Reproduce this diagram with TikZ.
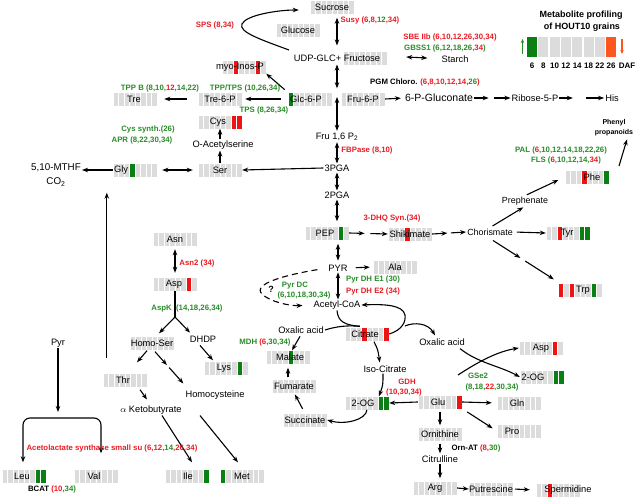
\documentclass[tikz,border=0pt]{standalone}
\usepackage{fontspec}
\setmainfont{Liberation Sans}
\usetikzlibrary{arrows.meta,calc}
\definecolor{cellgray}{RGB}{220,220,220}
\definecolor{cgreen}{RGB}{10,128,20}
\definecolor{cred}{RGB}{238,20,20}
\definecolor{lgreen}{RGB}{40,140,40}
\definecolor{lred}{RGB}{232,28,36}
\definecolor{lorange}{RGB}{255,85,30}
\newcommand\mfont{\fontsize{9.3}{11}\selectfont}
\newcommand\lfont{\bfseries\fontsize{7.8}{9}\selectfont}
\newcommand\R[1]{\textcolor{lred}{#1}}
\newcommand\G[1]{\textcolor{lgreen}{#1}}
\newcommand\K[1]{\textcolor{black}{#1}}
% metabolite bar: [text shift]{name}{x}{y}{text}{highlight list}
\newcommand\met[6][0]{%
  \foreach \i in {0,...,7}{\fill[cellgray] ({#3-22+\i*5.5+0.5},{#4-6.5}) rectangle ++(4.5,13);}
  \foreach \i/\cc in {#6}{\fill[fill=\cc] ({#3-22+\i*5.5+0.5},{#4-6.5}) rectangle ++(4.5,13);}
  \node[met] (#2) at (#3,#4) {\makebox[0pt]{\hspace*{#1pt}\hspace*{#1pt}#5}};
}
\newcommand\twostep[4]{%
  \draw[arr] (#1) -- ($(#1)!#3!(#2)$);
  \draw[arr] ($(#1)!#4!(#2)$) -- (#2);
}
\tikzset{
  met/.style={minimum width=44pt, minimum height=13pt, inner sep=0pt, font=\mfont},
  txt/.style={inner sep=1pt, font=\mfont},
  lab/.style={inner sep=0pt, font=\lfont, text=black},
  tip/.tip={Stealth[length=6pt,width=4.5pt]},
  arr/.style={line width=1.1pt, -tip},
  darr/.style={line width=1.1pt, tip-tip},
  ln/.style={line width=1.1pt},
}
\begin{document}
\begin{tikzpicture}[x=1pt,y=-1pt]
\useasboundingbox (0,0) rectangle (638,498);

% ---------- metabolite bars ----------
\met{sucrose}{332}{7}{Sucrose}{0/cellgray}
\met{glucose}{298}{30}{Glucose}{0/cellgray}
\met{fruc}{365}{58}{}{0/cellgray}
\met[-4]{myo}{244}{67}{myo-Inos-P}{2/cred,6/cred}
\met[-4]{glc}{310}{99}{Glc-6-P}{0/cgreen}
\met{fru}{363}{99}{Fru-6-P}{0/cellgray}
\met{tresp}{220}{99}{Tre-6-P}{0/cellgray}
\met[-1]{tre}{135}{99}{Tre}{0/cellgray}
\met[-2]{cys}{220}{122}{Cys}{6/cred,7/cred}
\met{ser}{220}{170}{Ser}{0/cellgray}
\met[-14]{gly}{135}{170}{Gly}{3/cgreen}
\met[-2]{pep}{327}{233}{PEP}{6/cgreen}
\met{ala}{395}{267}{Ala}{0/cellgray}
\met{shik}{410}{234}{Shikimate}{3/cred}
\met[5]{phe}{587}{177}{Phe}{3/cred,7/cgreen}
\met[-1]{tyr}{568}{233}{Tyr}{2/cred,6/cgreen,7/cgreen}
\met[3]{trp}{580}{290}{Trp}{0/cred,2/cred,6/cgreen}
\met{asn}{175}{239}{Asn}{0/cellgray}
\met[-1]{aspl}{175}{284}{Asp}{6/cred}
\met{homoser}{152}{343}{Homo-Ser}{0/cellgray}
\met[-2]{lys}{226}{368}{Lys}{6/cgreen}
\met[-2]{thr}{125}{380}{Thr}{0/cellgray}
\met[1]{ile}{187}{476}{Ile}{7/cgreen}
\met{met}{242}{476}{Met}{0/cgreen}
\met[-2]{leu}{24}{476}{Leu}{6/cgreen,7/cgreen}
\met[-2]{val}{96}{476}{Val}{0/cellgray}
\met[-2]{cit}{367}{334}{Citrate}{3/cred,7/cred}
\met[2]{mal}{288}{357}{Malate}{4/cgreen}
\met{fum}{294}{386}{Fumarate}{0/cellgray}
\met{succ}{305}{420}{Succinate}{0/cellgray}
\met[-4]{ogl}{367}{403}{2-OG}{6/cgreen,7/cgreen}
\met[-2]{glu}{440}{402}{Glu}{7/cred}
\met{aspr}{541}{348}{Asp}{6/cred}
\met[-9]{ogr}{542}{377}{2-OG}{6/cgreen,7/cgreen}
\met[-2]{gln}{519}{403}{Gln}{0/cellgray}
\met[-7]{pro}{519}{431}{Pro}{0/cellgray}
\met{orn}{440}{434}{Ornithine}{0/cellgray}
\met{arg}{435}{488}{Arg}{0/cellgray}
\met{put}{491}{489}{Putrescine}{0/cellgray}
\met[10]{spd}{558}{490}{Spermidine}{2/cred}

% ---------- plain metabolite texts ----------
\node[txt] (udp) at (337,58) {UDP-GLC+ Fructose};
\node[txt] (starch) at (455,59) {Starch};
\node[txt, font=\fontsize{10.5}{12}\selectfont] (gluc) at (439,98) {6-P-Gluconate};
\node[txt] (ribose) at (535,98) {Ribose-5-P};
\node[txt] (his) at (612,98) {His};
\node[txt] (fru16) at (337,137) {Fru 1,6 P\textsubscript{2}};
\node[txt] (pga3) at (337,168) {3PGA};
\node[txt] (pga2) at (337,195) {2PGA};
\node[txt] (oas) at (223,145) {O-Acetylserine};
\node[txt, align=center, font=\fontsize{9.8}{14}\selectfont] (mthf) at (56,175) {5,10-MTHF\\CO\textsubscript{2}};
\node[txt] (pyr) at (338,268) {PYR};
\node[txt] (acoa) at (337,305) {Acetyl-CoA};
\node[txt, font=\fontsize{8.9}{11}\selectfont] (chor) at (490,232) {Chorismate};
\node[txt, font=\fontsize{8.9}{11}\selectfont] (preph) at (525,201) {Prephenate};
\node[lab, align=center, font=\bfseries\fontsize{7}{10}\selectfont] (phenyl) at (614,128) {Phenyl\\propanoids};
\node[txt] (oxl) at (301,330) {Oxalic acid};
\node[txt] (oxr) at (442,342) {Oxalic acid};
\node[txt] (isocit) at (385,369) {Iso-Citrate};
\node[txt] (dhdp) at (203,339) {DHDP};
\node[txt] (homocys) at (215,395) {Homocysteine};
\node[txt] (aketo) at (151,410) {$\alpha$ Ketobutyrate};
\node[txt] (pyrl) at (58,343) {Pyr};
\node[txt] (citrul) at (440,459) {Citrulline};
\node[txt, font=\bfseries\fontsize{9}{11}\selectfont] (qm) at (271,289) {?};

% ---------- connectors ----------
\coordinate (spsS) at (289,50);
\draw[arr] (spsS) .. controls (262,40) and (238,32) .. (242,24) .. controls (246,15) and (278,10) .. ($(sucrose.west)+(-11,3)$);
\draw[darr, shorten <=4pt, shorten >=8pt] (udp.north |- sucrose.south) -- (udp.north);
\draw[darr] ($(fruc.east)+(19,-1)$) -- ($(starch.west)+(-13,-1)$);
\draw[darr, shorten <=2pt, shorten >=4pt] (udp.south) -- (udp.south |- glc.north);
\draw[darr, shorten <=-2pt, shorten >=1pt] (fru16.north |- glc.center) -- (fru16.north);
\draw[darr] (fru16.south) -- (pga3.north);
\draw[darr] (pga3.south) -- (pga2.north);
\draw[darr, shorten >=5pt] (pga2.south) -- (pga2.south |- pep.north);
\draw[darr, shorten <=4pt, shorten >=3pt] (pyr.north |- pep.south) -- (pyr.north);
\draw[darr] (pyr.south) -- (acoa.north -| pyr.south);
\draw[arr] (pga3.west) -- (ser.east);
\draw[darr, shorten <=5pt, shorten >=5pt] (ser.west) -- (gly.east);
\draw[arr] (gly.west) -- (gly.west -| mthf.east);
\draw[arr] (ser.north) -- (oas.south -| ser.north);
\draw[arr] (cys.south |- oas.north) -- (cys.south);
\draw[arr, shorten <=7pt, shorten >=3pt] (glc.west) -- (tresp.east);
\draw[arr, shorten <=11pt, shorten >=7pt] (tresp.west) -- (tre.east);
\draw[arr, shorten <=4pt] (glc.north west) -- (myo.south east);
\draw[arr, shorten >=3pt] (fru.east) -- (gluc.west);
\twostep{gluc.east}{ribose.west}{0.4}{0.55}
\twostep{ribose.east}{his.west}{0.3}{0.6}
\twostep{pep.east}{shik.west}{0.4}{0.55}
\twostep{shik.east}{chor.west}{0.45}{0.55}
\draw[arr, shorten <=3pt, shorten >=2pt] (chor.north) -- (preph.south);
\draw[arr, shorten <=2pt, shorten >=7pt] (preph.north) -- (phe.west);
\draw[arr, shorten <=3pt] (chor.east) -- (tyr.west);
\coordinate (trpS) at ($(chor.south)+(3,4)$);
\coordinate (trpE) at ($(trp.north west)+(-4,-4)$);
\twostep{trpS}{trpE}{0.45}{0.53}
\coordinate (palS) at (619,166);
\draw[arr] (palS) -- ($(phenyl.south)+(13,3)$);
\draw[arr, shorten <=7pt, shorten >=3pt] (pyr.east) -- (ala.west);
\draw[arr, dash pattern=on 6pt off 4pt, shorten <=10pt, shorten >=10pt] (pyr.west) .. controls (285,275) and (252,284) .. (262,294) .. controls (270,302) and (290,306) .. (acoa.west);
\coordinate (citin) at ($(cit.north west)+(15,-1)$);
\draw[ln] (acoa.south) .. controls (338,322) and (345,325) .. (citin);
\draw[ln] (oxl.east) .. controls (335,327) and (345,325) .. (citin);
\draw[arr] (cit.east) .. controls (402,330) and (406,322) .. (405,315) .. controls (403,305) and (385,304) .. (acoa.east);
\coordinate (oxbr) at (405,326);
\draw[arr] (oxbr) .. controls (414,322) and (428,323) .. ($(oxr.north)+(-7,-2)$);
\draw[arr, shorten >=2pt] ($(cit.south)+(7,1)$) .. controls (378,350) .. ($(isocit.north)+(-5,0)$);
\draw[arr] ($(isocit.south)+(-2,0)$) .. controls (383,385) .. ($(ogl.north)+(12,0)$);
\draw[arr] (glu.west) -- (ogl.east);
\draw[arr] (ogl.south) .. controls (366,420) and (345,425) .. (succ.east);
\draw[arr, shorten <=5pt, shorten >=2pt] (succ.north) -- (fum.south);
\draw[arr, shorten <=2pt, shorten >=4pt] (fum.north -| mal.south) -- (mal.south);
\draw[arr, shorten <=2pt] (oxl.south) -- ($(mal.north)+(4,0)$);
\coordinate (gsS) at (458,375);
\draw[arr] ($(oxr.south)+(18,2)$) .. controls (478,363) and (500,366) .. (ogr.west);
\draw[arr] (gsS) .. controls (475,364) and (495,352) .. (aspr.west);
\draw[arr, shorten >=5pt] (glu.east) -- (gln.west);
\draw[arr, shorten <=6pt, shorten >=5pt] (glu.south east) -- (pro.west);
\draw[arr, shorten <=3pt, shorten >=2pt] (glu.south) -- (orn.north);
\draw[arr, shorten <=3pt, shorten >=1pt] (orn.south) -- (citrul.north);
\draw[arr, shorten >=3pt] (citrul.south) -- (citrul.south |- arg.north);
\draw[arr] (arg.east) -- (put.west);
\draw[arr, shorten <=2pt, shorten >=6pt] (put.east) -- (spd.west);
\draw[darr, shorten <=3.5pt, shorten >=4.5pt] (asn.south) -- (aspl.north);
\coordinate (aspk) at (175,317);
\draw[ln] (aspl.south) -- (aspk);
\draw[arr] (aspk) -- ($(homoser.north)+(7,-3)$);
\draw[arr] (aspk) -- ($(dhdp.north)+(-13,-2)$);
\draw[arr] ($(dhdp.south)+(-3,2)$) -- ($(lys.north)+(-13,-1)$);
\draw[arr] ($(homoser.south)+(-5,1)$) -- ($(thr.north)+(12,-11)$);
\coordinate (hcS) at ($(homoser.south)+(3,2)$);
\coordinate (hcE) at ($(homocys.north west)+(-1,-6)$);
\twostep{hcS}{hcE}{0.42}{0.5}
\draw[arr] ($(thr.south)+(15,3)$) -- ($(aketo.north)+(-4,-5)$);
\draw[arr] ($(aketo.south)+(11,0)$) -- ($(ile.north)+(5,-7)$);
\draw[arr] ($(homocys.south)+(-15,15)$) -- ($(met.north)+(-4,-7)$);
\draw[arr] ($(thr.north west)+(4,-15)$) -- ($(gly.south west)+(-6,16)$);
\coordinate (brk) at (58,418);
\draw[arr, shorten >=6pt] (pyrl.south) -- (brk);
\draw[darr, rounded corners=7pt] ($(leu.north)+(-1,-7)$) |- (brk) -| ($(val.north)+(5,-16)$);

% ---------- enzyme labels ----------
\node[lab] (lsps) at (215,25) {\R{SPS (8,34)}};
\node[lab] (lsusy) at (370,20) {\R{Susy (6,8,}\G{12}\R{,34)}};
\node[lab] (lsbe) at (450,37) {\R{SBE IIb (6,10,12,26,30,34)}};
\node[lab] (lgbss) at (445,48) {\G{GBSS1 (6,12,18,26,}\R{34}\G{)}};
\node[lab] (lpgm) at (425,82) {\K{PGM Chloro.} \R{(6,8,10,12,14,}\G{26}\R{)}};
\node[lab] (ltpptps) at (245,88) {\G{TPP/TPS (10,26,34)}};
\node[lab] (ltps) at (264,110) {\G{TPS (8,26,34)}};
\node[lab] (ltppb) at (160,88) {\G{TPP B (8,10,}\R{12}\G{,14,22)}};
\node[lab] (lcys) at (148,129) {\G{Cys synth.(26)}};
\node[lab] (lapr) at (142,140) {\G{APR (8,22,30,34)}};
\node[lab] (lfbp) at (367,150) {\R{FBPase (8,10)}};
\node[lab] (ldhq) at (392,218) {\R{3-DHQ Syn.(34)}};
\node[lab] (lpal) at (561,150) {\G{PAL (}\R{6}\G{,10,12,14,18,22,26)}};
\node[lab] (lfls) at (566,160) {\G{FLS (}\R{6}\G{,10,12,14,}\R{34}\G{)}};
\node[lab] (lpdc1) at (295,286) {\G{Pyr DC}};
\node[lab] (lpdc2) at (304,295) {\G{(6,10,18,30,34)}};
\node[lab] (lpdh1) at (373,279) {\G{Pyr DH E1 (30)}};
\node[lab] (lpdh2) at (373,291) {\R{Pyr DH E2 (34)}};
\node[lab] (lasn2) at (197,263) {\R{Asn2 (34)}};
\node[lab] (laspk) at (187,308) {\G{AspK\ \ (14,18,26,34)}};
\node[lab] (lmdh) at (265,342) {\G{MDH }\R{(6,}\G{30,34)}};
\node[lab] (lgdh1) at (407,382) {\R{GDH}};
\node[lab] (lgdh2) at (404,392) {\R{(10,30,34)}};
\node[lab] (lgse1) at (478,376) {\G{GSe2}};
\node[lab] (lgse2) at (492,387) {\G{(8,18,}\R{22}\G{,30,34)}};
\node[lab] (lornat) at (476,448) {\K{Orn-AT} \R{(8,}\G{30)}};
\node[lab] (lals) at (112,448) {\R{Acetolactate synthase small su (6,12,}\G{14}\R{,26,34)}};
\node[lab] (lbcat) at (52,489) {\K{BCAT} \R{(10,}\G{34)}};

% ---------- legend ----------
\node[font=\bfseries\fontsize{9}{11}\selectfont, inner sep=0pt] (lt1) at (581,15) {Metabolite profiling};
\node[font=\bfseries\fontsize{9}{11}\selectfont, inner sep=0pt] (lt2) at (582,27) {of HOUT10 grains};
\foreach \i in {0,...,7}{\fill[cellgray] ({527+\i*11.3},37) rectangle ++(10,20);}
\fill[cgreen] (527,37) rectangle ++(10,20);
\fill[lorange] ({527+7*11.3},37) rectangle ++(10,20);
\draw[line width=1.3pt, lgreen, -{Stealth[length=4pt,width=3.5pt]}] (522.5,54) -- (522.5,39);
\draw[line width=1.3pt, lorange, -{Stealth[length=4pt,width=3.5pt]}] (622,39) -- (622,54);
\foreach \n [count=\k from 0] in {6,8,10,12,14,18,22,26}
  {\node[font=\bfseries\fontsize{8}{10}\selectfont, inner sep=0pt] (day\k) at ({532+\k*11.3},66) {\n};}
\node[font=\bfseries\fontsize{8}{10}\selectfont, inner sep=0pt] (daf) at (627,66) {DAF};
\end{tikzpicture}
\end{document}
